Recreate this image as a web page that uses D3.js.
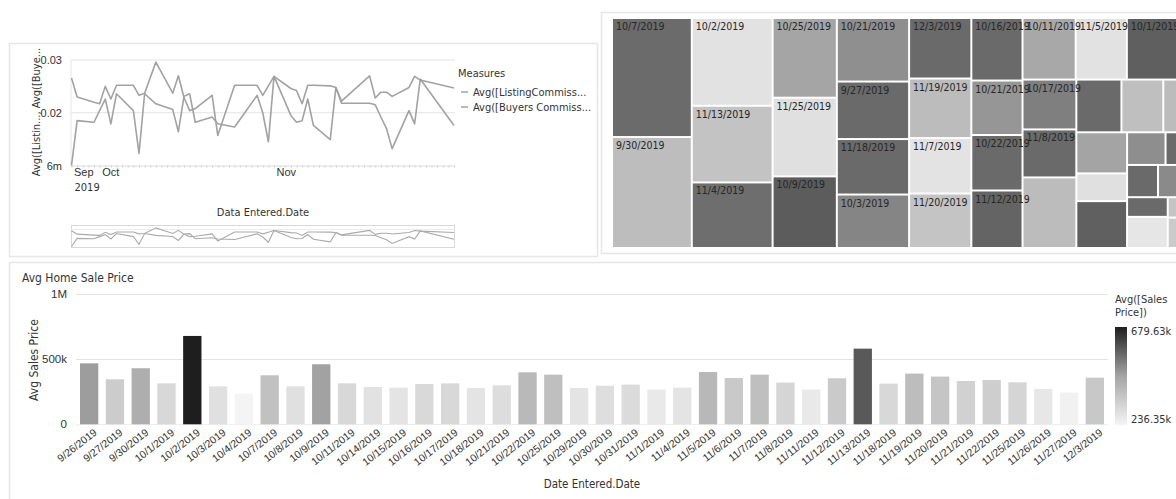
<!DOCTYPE html>
<html>
<head>
<meta charset="utf-8">
<script src="https://cdn.jsdelivr.net/npm/d3@7"></script>
<style>
  html, body { margin: 0; padding: 0; background: #ffffff; }
  svg { display: block; font-family: "Liberation Sans Narrow", "DejaVu Sans Condensed", "Roboto Condensed", sans-serif; }
</style>
</head>
<body>
<svg id="dash" width="1176" height="499"></svg>
<script>
// ---- data ----
const dates = ["9/26/2019","9/27/2019","9/30/2019","10/1/2019","10/2/2019","10/3/2019","10/4/2019","10/7/2019",
  "10/8/2019","10/9/2019","10/11/2019","10/14/2019","10/15/2019","10/16/2019","10/17/2019","10/18/2019",
  "10/21/2019","10/22/2019","10/25/2019","10/29/2019","10/30/2019","10/31/2019","11/1/2019","11/4/2019",
  "11/5/2019","11/6/2019","11/7/2019","11/8/2019","11/11/2019","11/12/2019","11/13/2019","11/18/2019",
  "11/19/2019","11/20/2019","11/21/2019","11/22/2019","11/25/2019","11/26/2019","11/27/2019","12/3/2019"];

const listingCommission = [0.0266,0.0230,0.0220,0.0217,0.0250,0.0226,0.0252,0.0252,
  0.0233,0.0237,0.0296,0.0237,0.0270,0.0229,0.0204,0.0208,
  0.0233,0.0157,0.0252,0.0252,0.0233,0.0251,0.0269,0.0246,
  0.0242,0.0217,0.0252,0.0252,0.0251,0.0248,0.0222,0.0270,
  0.0228,0.0239,0.0239,0.0231,0.0248,0.0269,0.0262,0.0247];

const buyersCommission = [0.0100,0.0185,0.0182,0.0204,0.0226,0.0179,0.0236,0.0204,
  0.0123,0.0236,0.0217,0.0206,0.0164,0.0231,0.0236,0.0182,
  0.0192,0.0179,0.0173,0.0233,0.0200,0.0145,0.0269,0.0195,
  0.0182,0.0185,0.0226,0.0176,0.0149,0.0248,0.0218,0.0218,
  0.0215,0.0192,0.0170,0.0132,0.0204,0.0179,0.0264,0.0176];

const seriesNames = ["Avg([ListingCommiss...", "Avg([Buyers Commiss..."];
const commissionTicks = [0.01, 0.02, 0.03];
const commissionTickLabels = ["6m", "0.02", "0.03"];

const avgSalesPrice = [469000,346000,431000,315000,679630,292000,236350,377000,
  292000,462000,315000,287000,282000,310000,315000,280000,
  300000,400000,382000,280000,297000,305000,267000,282000,
  402000,356000,382000,321000,267000,354000,582000,313000,
  390000,367000,333000,341000,323000,272000,244000,359000];
const priceTicks = [0, 500000, 1000000];

const treemapDates = ["10/7/2019","9/30/2019","10/2/2019","11/13/2019","11/4/2019","10/25/2019","11/25/2019","10/9/2019",
  "10/21/2019","9/27/2019","11/18/2019","10/3/2019","12/3/2019","11/19/2019","11/7/2019","11/20/2019",
  "10/16/2019","10/21/2019","10/22/2019","11/12/2019","10/11/2019","11/5/2019","10/1/2019","10/17/2019","11/8/2019",
  "11/6/2019","10/30/2019","10/15/2019","11/26/2019","10/18/2019","10/31/2019","11/22/2019","10/14/2019",
  "11/11/2019","11/21/2019","10/8/2019","10/29/2019","11/27/2019","9/26/2019","11/1/2019"];
const treemapValues = [9381,8745,7004,6118,5233,5056,4992,4544,
  4536,4104,3960,3816,3720,3658,3410,3348,
  3162,2754,2805,2907,3233,3111,4691,2650,2550,
  3750,2350,2180,2120,2060,1390,2350,1240,
  1240,985,1465,790,1250,730,1090];
const labelledTiles = 25;

// ---- styles ----
const tileShades = ["#6b6b6b","#bdbdbd","#e2e2e2","#c3c3c3","#6e6e6e","#a5a5a5","#e0e0e0","#5c5c5c",
  "#8f8f8f","#6a6a6a","#6a6a6a","#858585","#6a6a6a","#bcbcbc","#e3e3e3","#c4c4c4",
  "#6a6a6a","#969696","#6a6a6a","#646464","#a8a8a8","#e2e2e2","#5f5f5f","#7f7f7f","#6a6a6a",
  "#bcbcbc","#6a6a6a","#bfbfbf","#bcbcbc","#a4a4a4","#e0e0e0","#606060","#8e8e8e",
  "#6a6a6a","#6a6a6a","#8a8a8a","#6a6a6a","#e6e6e6","#c4c4c4","#cacaca"];
const textDark = "#333333";
const gridGray = "#e3e3e3";
const panelBorder = "#e6e6e6";
const lineGray = "#a2a2a2";

const svg = d3.select("#dash");

// ---- panels ----
function panel(x, y, w, h) {
  svg.append("rect").attr("x", x + 0.5).attr("y", y + 0.5).attr("width", w).attr("height", h)
    .attr("fill", "none").attr("stroke", panelBorder).attr("stroke-width", 1.5);
}
panel(9, 43, 588, 213);
panel(601, 12, 610, 241);
panel(9, 262, 1190, 260);

// ---- commission line chart ----
const parse = d3.timeParse("%m/%d/%Y");
const when = dates.map(parse);
const xLine = d3.scaleTime().domain(d3.extent(when)).range([71.5, 454]);
const yLine = d3.scaleLinear().domain([0.01, 0.03]).range([165.5, 60]);
const lineChart = svg.append("g");

// horizontal grid
lineChart.append("g").selectAll("line").data(commissionTicks.slice(1)).join("line")
  .attr("x1", 71).attr("x2", 455)
  .attr("y1", d => yLine(d)).attr("y2", d => yLine(d))
  .attr("stroke", gridGray).attr("stroke-width", 1);

// left axis labels
const yAxisLine = lineChart.append("g").attr("transform", "translate(64,0)")
  .call(d3.axisLeft(yLine).tickValues(commissionTicks)
    .tickFormat((d, i) => commissionTickLabels[i]).tickSize(0).tickPadding(2));
yAxisLine.select(".domain").remove();
yAxisLine.selectAll("text").attr("fill", textDark).style("font-size", "11px").style("font-family", null);

// vertical left edge of plot
lineChart.append("line").attr("x1", 71).attr("x2", 71).attr("y1", 60).attr("y2", 166)
  .attr("stroke", "#e6e6e6");

// daily tick baseline
const dayAxis = lineChart.append("g").attr("transform", `translate(0,${yLine(0.01)})`)
  .call(d3.axisBottom(xLine).ticks(d3.timeDay.every(1)).tickSize(2).tickFormat(""));
dayAxis.select(".domain").attr("stroke", "#dddddd");
dayAxis.selectAll(".tick line").attr("stroke", "#cccccc");

// month labels
const monthStarts = [when[0], new Date(2019, 9, 1), new Date(2019, 10, 1)];
const monthAxis = lineChart.append("g").attr("transform", "translate(0,166)")
  .call(d3.axisBottom(xLine).tickValues(monthStarts).tickFormat(d3.timeFormat("%b")).tickSize(0).tickPadding(2));
monthAxis.select(".domain").remove();
monthAxis.selectAll("text").attr("text-anchor", "start").attr("dx", 2)
  .attr("fill", textDark).style("font-size", "11px").style("font-family", null);
lineChart.append("text").attr("x", xLine(when[0]) + 3).attr("y", 191)
  .attr("fill", textDark).style("font-size", "11px").text(d3.timeFormat("%Y")(when[0]));

lineChart.append("text").attr("x", 263).attr("y", 216).attr("text-anchor", "middle")
  .attr("fill", textDark).style("font-size", "11px").text("Data Entered.Date");

lineChart.append("text").attr("transform", "translate(40,112) rotate(-90)").attr("text-anchor", "middle")
  .attr("fill", textDark).style("font-size", "11px").text("Avg([Listin..., Avg([Buye...");

const lineGen = d3.line().x((d, i) => xLine(when[i])).y(d => yLine(d));
[listingCommission, buyersCommission].forEach(series => {
  lineChart.append("path").datum(series).attr("d", lineGen)
    .attr("fill", "none").attr("stroke", lineGray).attr("stroke-width", 1.6).attr("stroke-linejoin", "round");
});

// legend
lineChart.append("text").attr("x", 458).attr("y", 77).attr("fill", textDark)
  .style("font-size", "11px").text("Measures");
seriesNames.forEach((name, i) => {
  const y = 92 + i * 15;
  lineChart.append("line").attr("x1", 461).attr("x2", 468).attr("y1", y).attr("y2", y)
    .attr("stroke", lineGray).attr("stroke-width", 1.5);
  lineChart.append("text").attr("x", 473).attr("y", y + 4).attr("fill", textDark)
    .style("font-size", "11px").text(name);
});

// navigator strip
const yNav = d3.scaleLinear().domain([0.01, 0.03]).range([246.5, 227.5]);
lineChart.append("rect").attr("x", 71.5).attr("y", 225.5).attr("width", 383).attr("height", 22)
  .attr("fill", "none").attr("stroke", "#d8d8d8");
lineChart.append("line").attr("x1", 71.5).attr("x2", 454.5).attr("y1", 229.5).attr("y2", 229.5)
  .attr("stroke", "#ececec");
const navGen = d3.line().x((d, i) => xLine(when[i])).y(d => yNav(d));
[listingCommission, buyersCommission].forEach(series => {
  lineChart.append("path").datum(series).attr("d", navGen)
    .attr("fill", "none").attr("stroke", "#aaaaaa").attr("stroke-width", 1.1);
});

// ---- treemap ----
const root = d3.hierarchy({ children: treemapDates.map((d, i) => ({ name: d, value: treemapValues[i], idx: i })) })
  .sum(d => d.value || 0);
d3.treemap().tile(d3.treemapSquarify.ratio(1)).size([590, 228]).paddingInner(2)(root);
const tileColor = d3.scaleOrdinal(d3.range(treemapDates.length), tileShades);
const tm = svg.append("g").attr("transform", "translate(613,19)");
tm.append("g").selectAll("rect").data(root.leaves()).join("rect")
  .attr("x", d => d.x0).attr("y", d => d.y0)
  .attr("width", d => d.x1 - d.x0).attr("height", d => d.y1 - d.y0)
  .attr("fill", d => tileColor(d.data.idx));
// labels sit above every tile so long dates can run to the tile edge
tm.append("g").selectAll("text").data(root.leaves().filter(d => d.data.idx < labelledTiles)).join("text")
  .attr("x", d => d.x0 + 3).attr("y", d => d.y0 + 11)
  .attr("fill", "#262626").style("font-size", "10.5px")
  .text(d => d.data.name);

// ---- average sales price bars ----
const xBar = d3.scaleBand().domain(dates).range([76, 1108]).paddingInner(0.29).paddingOuter(0.155);
const yBar = d3.scaleLinear().domain([0, 1000000]).range([424.3, 294.3]);
const [pMin, pMax] = d3.extent(avgSalesPrice);
const pMid = pMin + (pMax - pMin) * 0.5;
const shade = d3.scaleLinear().domain([pMin, pMid, pMax]).range(["#f4f4f4", "#a4a4a4", "#1e1e1e"]);
const bars = svg.append("g");

bars.append("text").attr("x", 22).attr("y", 282).attr("fill", textDark)
  .style("font-size", "12px").text("Avg Home Sale Price");

bars.append("g").selectAll("line").data(priceTicks).join("line")
  .attr("x1", 76).attr("x2", 1108)
  .attr("y1", d => Math.round(yBar(d)) + 0.5).attr("y2", d => Math.round(yBar(d)) + 0.5)
  .attr("stroke", d => d === 0 ? "#eeeeee" : gridGray);

const yAxisBar = bars.append("g").attr("transform", "translate(67,0)")
  .call(d3.axisLeft(yBar).tickValues(priceTicks).tickFormat(d3.format("~s")).tickSize(0).tickPadding(0));
yAxisBar.select(".domain").remove();
yAxisBar.selectAll("text").attr("fill", textDark).style("font-size", "11.5px").style("font-family", null);

bars.append("text").attr("transform", "translate(38,360) rotate(-90)").attr("text-anchor", "middle")
  .attr("fill", textDark).style("font-size", "12px").text("Avg Sales Price");

bars.append("g").selectAll("rect").data(avgSalesPrice).join("rect")
  .attr("x", (d, i) => xBar(dates[i])).attr("width", xBar.bandwidth())
  .attr("y", d => yBar(d)).attr("height", d => yBar(0) - yBar(d))
  .attr("fill", d => shade(d));

const xAxisBar = bars.append("g").attr("transform", "translate(0,426)")
  .call(d3.axisBottom(xBar).tickSize(0).tickPadding(0));
xAxisBar.select(".domain").remove();
xAxisBar.selectAll("text")
  .attr("text-anchor", "end").attr("dy", "0.7em").attr("y", 0)
  .attr("transform", "translate(4,2) rotate(-38)")
  .attr("fill", textDark).style("font-size", "10.5px").style("font-family", null);

bars.append("text").attr("x", 592).attr("y", 488).attr("text-anchor", "middle")
  .attr("fill", textDark).style("font-size", "11.5px").text("Date Entered.Date");

// colour legend
const defs = svg.append("defs");
const grad = defs.append("linearGradient").attr("id", "priceGrad")
  .attr("x1", 0).attr("y1", 1).attr("x2", 0).attr("y2", 0);
shade.domain().forEach(v => {
  grad.append("stop").attr("offset", (v - pMin) / (pMax - pMin)).attr("stop-color", shade(v));
});
bars.append("text").attr("x", 1115).attr("y", 303).attr("fill", textDark).style("font-size", "11px").text("Avg([Sales");
bars.append("text").attr("x", 1115).attr("y", 316).attr("fill", textDark).style("font-size", "11px").text("Price])");
bars.append("rect").attr("x", 1115).attr("y", 327).attr("width", 12).attr("height", 98)
  .attr("fill", "url(#priceGrad)");
const kFmt = v => (v / 1000).toFixed(2) + "k";
bars.append("text").attr("x", 1131).attr("y", 335).attr("fill", textDark).style("font-size", "11px").text(kFmt(pMax));
bars.append("text").attr("x", 1131).attr("y", 423).attr("fill", textDark).style("font-size", "11px").text(kFmt(pMin));
</script>
</body>
</html>
